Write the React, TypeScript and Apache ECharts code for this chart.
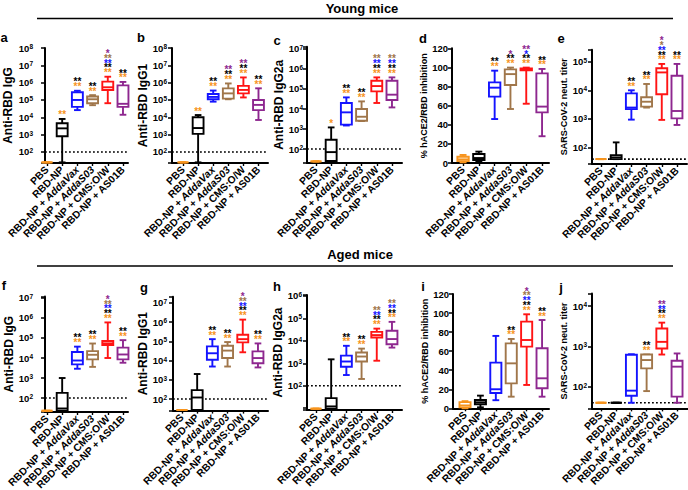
import React, { useEffect, useRef } from "react";
import * as echarts from "echarts";

const FONT = '"Liberation Sans", Arial, Helvetica, sans-serif';

// ---------- data ----------
const categories = ["PBS", "RBD-NP", "RBD-NP + AddaVax", "RBD-NP + AddaS03", "RBD-NP + CMS:O/W", "RBD-NP + AS01B"];
const italicAdjuvant = ["", "", "AddaVax", "AddaS03", "", ""];
const groupTitles = ["Young mice", "Aged mice"];
const panelLetters = ["a", "b", "c", "d", "e", "f", "g", "h", "i", "j"];
const yAxisNames = [
  "Anti-RBD IgG", "Anti-RBD IgG1", "Anti-RBD IgG2a", "% hACE2/RBD inhibition", "SARS-CoV-2 neut. titer",
  "Anti-RBD IgG", "Anti-RBD IgG1", "Anti-RBD IgG2a", "% hACE2/RBD inhibition", "SARS-CoV-2 neut. titer",
];
const linearTicks = [0, 20, 40, 60, 80, 100, 120];

// box data per category: [min, Q1, median, Q3, max]
const boxA = [
  [25, 25, 25, 25, 25],
  [25, 800, 2300, 4500, 8000],
  [2.6e4, 4e4, 1e5, 2.8e5, 3.4e5],
  [5e4, 6.5e4, 1.1e5, 1.6e5, 1.9e5],
  [6.5e4, 3.8e5, 5.4e5, 1.15e6, 2.2e6],
  [1.4e4, 4e4, 6e4, 7e5, 1.1e6],
];
const boxB = [
  [25, 25, 25, 25, 25],
  [25, 1100, 2400, 1e4, 1.35e4],
  [8e4, 1.1e5, 1.5e5, 2.2e5, 3.5e5],
  [1.1e5, 1.2e5, 2.4e5, 4.7e5, 9e5],
  [1.4e5, 2.4e5, 3.8e5, 6.5e5, 2e6],
  [7e3, 2.6e4, 5.2e4, 1e5, 4.7e5],
];
const boxC = [
  [24, 24, 24, 24, 24],
  [24, 25, 70, 290, 1200],
  [1.5e3, 1.65e3, 6.8e3, 2e4, 3.8e4],
  [2.5e3, 2.6e3, 4.1e3, 1e4, 2.4e4],
  [2e4, 7.6e4, 1.4e5, 2.6e5, 3.8e5],
  [1.2e4, 2.8e4, 5.2e4, 2.6e5, 3.8e5],
];
const boxD = [
  [0.7, 2, 3.8, 6.6, 8.4],
  [1.4, 3.1, 5.2, 9.4, 11.9],
  [46, 69.4, 78.8, 84.4, 96.6],
  [56.5, 81.6, 93, 98, 99.8],
  [62, 97, 98, 99, 99.8],
  [28, 53, 59, 93.8, 98.4],
];
const boxE = [
  [40, 40, 40, 40, 40],
  [40, 40, 46, 55, 153],
  [950, 2200, 2500, 7800, 1e4],
  [2500, 2700, 4000, 5700, 1.66e4],
  [930, 7300, 4.2e4, 5.9e4, 8.3e4],
  [620, 1050, 1900, 3.2e4, 8.3e4],
];
const boxF = [
  [23, 23, 23, 23, 23],
  [23, 23, 30, 180, 1000],
  [2.9e3, 4.8e3, 7.5e3, 2e4, 3.7e4],
  [3.6e3, 8.5e3, 1.45e4, 2.2e4, 5.3e4],
  [1e4, 4.5e4, 5.4e4, 7.1e4, 6e5],
  [5.8e3, 8.5e3, 1.5e4, 3.3e4, 7.8e4],
];
const boxG = [
  [27, 27, 27, 27, 27],
  [27, 27, 120, 290, 2000],
  [4.9e3, 1.1e4, 2.4e4, 5.5e4, 1.3e5],
  [4.9e3, 1.35e4, 3.3e4, 5.9e4, 9.2e4],
  [2.7e4, 8.8e4, 1.3e5, 2.2e5, 1.35e6],
  [4.4e3, 7.3e3, 1.35e4, 3e4, 7.8e4],
];
const boxH = [
  [9.5, 9.5, 9.5, 9.5, 9.5],
  [9.5, 9.5, 12, 28, 1500],
  [300, 700, 1200, 2200, 6000],
  [200, 1200, 2000, 3000, 4500],
  [1300, 1.4e4, 1.8e4, 2.5e4, 3.5e4],
  [5e3, 7e3, 1.2e4, 2.8e4, 7e4],
];
const boxI = [
  [0, 1, 3, 6.5, 7.5],
  [1, 4.2, 6.3, 8.7, 13.3],
  [8.5, 16, 20, 48, 76],
  [12.2, 26.2, 47.2, 68.2, 72.8],
  [24.5, 64.7, 71.7, 91, 98.7],
  [12.2, 21, 31.5, 63, 92.7],
];
const boxJ = [
  [40, 40, 40, 40, 40],
  [40, 40, 40, 40, 40],
  [40, 60, 80, 620, 640],
  [78, 285, 460, 630, 630],
  [630, 890, 1300, 2800, 3900],
  [40, 57, 315, 440, 670],
];

// significance marks per category, bottom to top: colour code + number of asterisks
const starsA = [[], ["o2"], ["o2", "k2"], ["o2", "k2"], ["o2", "k2", "b2", "n2", "p1"], ["o2", "k2"]];
const starsB = [[], ["o2"], ["o2", "k2"], ["o2", "k2", "p2"], ["o2", "k2", "p2"], ["o2", "k2"]];
const starsC = [[], ["o1"], ["o2", "k2"], ["o2", "k2"], ["o2", "k2", "b2", "n2"], ["o2", "k2", "b2", "n2"]];
const starsD = [[], [], ["o2", "k2"], ["o2", "k2", "p1"], ["o2", "k2", "b1", "p2"], ["o2", "k2"]];
const starsE = [[], [], ["o2", "k2"], ["o2", "k2"], ["o2", "k2", "b2", "n1", "p1"], ["o2", "k2"]];
const starsF = [[], [], ["o2", "k2"], ["o2", "k2"], ["o2", "k2", "b2", "n2", "p1"], ["o2", "k2"]];
const starsG = [[], [], ["o2", "k2"], ["o2", "k2"], ["o2", "k2", "b2", "n2", "p1"], ["o2", "k2"]];
const starsH = [[], [], ["o2", "k2"], ["o2", "k2"], ["o2", "k2", "b2", "n2"], ["o2", "k2", "b2", "n2"]];
const starsI = [[], [], [], ["o2", "k2"], ["o2", "k2", "b2", "n2", "p1"], ["o2", "k2"]];
const starsJ = [[], [], [], ["o2", "k2"], ["o2", "k2", "b2", "p2"], []];

const boxes = [boxA, boxB, boxC, boxD, boxE, boxF, boxG, boxH, boxI, boxJ];
const stars = [starsA, starsB, starsC, starsD, starsE, starsF, starsG, starsH, starsI, starsJ];
const scales = ["log", "log", "log", "value", "log", "log", "log", "log", "value", "log"];
const yMins = [23, 23, 20, 0, 27, 20, 25, 8.3, 0, 29];
const yMaxs = [1e8, 1e8, 1.3e7, 120, 2.6e5, 1.2e7, 2.1e7, 1.1e6, 120, 2.05e4];
const detectionLimits = [100, 100, 100, null, 40, 100, 100, 100, null, 40];

// ---------- styles / layout ----------
const categoryColors = ["#F7941D", "#000000", "#1414FF", "#A0764A", "#FF1414", "#8E278F"];
const starColors: Record<string, string> = { o: "#F7941D", k: "#000000", b: "#1414FF", n: "#A0764A", p: "#8E278F" };

const layouts = [
  { left: 45, right: 128, top: 48, bottom: 163, xMin: -0.13, xMax: 5.33, nameGap: 31, labelMargin: 12, nameSize: 12, lx: 4, ly: 37 },
  { left: 172, right: 268, top: 48, bottom: 163, xMin: -0.73, xMax: 5.63, nameGap: 20, labelMargin: 5, nameSize: 12, lx: 141, ly: 37 },
  { left: 307, right: 402, top: 46.7, bottom: 163, xMin: -0.59, xMax: 5.66, nameGap: 22, labelMargin: 4, nameSize: 12, lx: 277, ly: 40 },
  { left: 452, right: 549, top: 48.3, bottom: 163, xMin: -0.7, xMax: 5.44, nameGap: 17, labelMargin: 4, nameSize: 9, lx: 423, ly: 38 },
  { left: 592, right: 687, top: 49.7, bottom: 164, xMin: -0.59, xMax: 5.66, nameGap: 22, labelMargin: 5, nameSize: 9, lx: 561, ly: 38 },
  { left: 45, right: 128, top: 296.4, bottom: 412, xMin: -0.13, xMax: 5.33, nameGap: 28, labelMargin: 12, nameSize: 12, lx: 4, ly: 285 },
  { left: 173, right: 268, top: 296.7, bottom: 410.6, xMin: -0.59, xMax: 5.66, nameGap: 21, labelMargin: 6, nameSize: 12, lx: 144, ly: 287 },
  { left: 307, right: 402, top: 295, bottom: 410, xMin: -0.59, xMax: 5.66, nameGap: 22, labelMargin: 5, nameSize: 12, lx: 277, ly: 286 },
  { left: 453, right: 549, top: 294, bottom: 408.3, xMin: -0.78, xMax: 5.45, nameGap: 18, labelMargin: 4, nameSize: 9, lx: 423, ly: 286 },
  { left: 592, right: 688, top: 293.6, bottom: 408.4, xMin: -0.59, xMax: 5.72, nameGap: 22, labelMargin: 5, nameSize: 9, lx: 561, ly: 287 },
];

const STAR_ROW = 4.8;
const CAT_FONT = 10.3;

function categoryLabel(i: number): string {
  const cat = categories[i];
  const it = italicAdjuvant[i];
  if (it && cat.endsWith(it)) {
    return `{n|${cat.slice(0, cat.length - it.length)}}{i|${it}}`;
  }
  return `{n|${cat}}`;
}

function renderBox(params: any, api: any) {
  const x = api.value(0);
  const mn = api.value(1), q1 = api.value(2), md = api.value(3), q3 = api.value(4), mx = api.value(5);
  const color = categoryColors[api.value(6)];
  const bw = api.size([1, 0])[0];
  const half = bw * 0.36;
  const cap = bw * 0.22;
  const P = (v: number) => api.coord([x, v]);
  const cx = P(md)[0];
  const yMn = P(mn)[1], yQ1 = P(q1)[1], yMd = P(md)[1], yQ3 = P(q3)[1], yMx = P(mx)[1];
  const ls = { stroke: color, lineWidth: 1.9, fill: "none" };
  return {
    type: "group",
    children: [
      { type: "line", shape: { x1: cx, y1: yMx, x2: cx, y2: yQ3 }, style: ls },
      { type: "line", shape: { x1: cx, y1: yQ1, x2: cx, y2: yMn }, style: ls },
      { type: "line", shape: { x1: cx - cap, y1: yMx, x2: cx + cap, y2: yMx }, style: ls },
      { type: "line", shape: { x1: cx - cap, y1: yMn, x2: cx + cap, y2: yMn }, style: ls },
      { type: "rect", shape: { x: cx - half, y: yQ3, width: 2 * half, height: yQ1 - yQ3 }, style: { stroke: color, lineWidth: 1.9, fill: "#ffffff" } },
      { type: "line", shape: { x1: cx - half, y1: yMd, x2: cx + half, y2: yMd }, style: ls },
    ],
  };
}

const starRich: Record<string, any> = {};
Object.keys(starColors).forEach((k) => {
  starRich[k] = { fill: starColors[k], color: starColors[k], fontFamily: FONT, fontWeight: "bold", fontSize: 10, lineHeight: STAR_ROW };
});

function makeStarRenderer(groups: { ci: number; codes: string[] }[]) {
  return (params: any, api: any) => {
    const g = groups[params.dataIndex];
    const pt = api.coord([api.value(0), api.value(1)]);
    const text = g.codes
      .slice()
      .reverse()
      .map((c) => `{${c[0]}|${"*".repeat(parseInt(c.slice(1), 10))}}`)
      .join("\n");
    return {
      type: "text",
      x: pt[0],
      y: pt[1] - 1.6,
      style: {
        text,
        rich: starRich,
        font: `bold 10px ${FONT}`,
        align: "center",
        verticalAlign: "bottom",
        lineHeight: STAR_ROW,
      },
    };
  };
}

function buildOption() {
  const grid: any[] = [], xAxis: any[] = [], yAxis: any[] = [], series: any[] = [];
  const catTicks = categories.map((_, i) => i);
  boxes.forEach((box, i) => {
    const L = layouts[i];
    const isLog = scales[i] === "log";
    grid.push({ left: L.left, top: L.top, width: L.right - L.left, height: L.bottom - L.top, containLabel: false, outerBoundsMode: "none" });
    xAxis.push({
      gridIndex: i,
      type: "value",
      min: L.xMin,
      max: L.xMax,
      splitLine: { show: false },
      axisLine: { show: true, onZero: false, lineStyle: { color: "#000", width: 2 } },
      axisTick: { show: true, length: 3, customValues: catTicks, lineStyle: { color: "#000", width: 1.4 } },
      axisLabel: {
        customValues: catTicks,
        rotate: 45,
        margin: 5,
        formatter: (v: number) => {
          const k = Math.round(v);
          if (Math.abs(v - k) > 1e-6 || k < 0 || k >= categories.length) return "";
          return categoryLabel(k);
        },
        rich: {
          n: { fontFamily: FONT, fontWeight: "bold", fontSize: CAT_FONT, color: "#000" },
          i: { fontFamily: FONT, fontWeight: "bold", fontStyle: "italic", fontSize: CAT_FONT, color: "#000" },
        },
      },
    });
    yAxis.push({
      gridIndex: i,
      type: isLog ? "log" : "value",
      logBase: 10,
      min: yMins[i],
      max: yMaxs[i],
      interval: isLog ? undefined : 20,
      splitLine: { show: false },
      axisLine: { show: true, onZero: false, lineStyle: { color: "#000", width: 2 } },
      axisTick: { show: true, length: 4, lineStyle: { color: "#000", width: 1.5 } },
      axisLabel: {
        margin: L.labelMargin,
        color: "#000",
        fontFamily: FONT,
        fontWeight: "bold",
        fontSize: 9.5,
        formatter: isLog
          ? (v: number) => {
              const e = Math.log10(v);
              const r = Math.round(e);
              if (Math.abs(e - r) > 1e-6 || r < 2) return "";
              return `{b|10}{s|${String(r)}}`;
            }
          : (v: number) => (linearTicks.includes(v) ? String(v) : ""),
        rich: {
          b: { fontFamily: FONT, fontWeight: "bold", fontSize: 9.5, color: "#000" },
          s: { fontFamily: FONT, fontWeight: "bold", fontSize: 6.5, color: "#000", verticalAlign: "top" },
        },
      },
      name: yAxisNames[i],
      nameLocation: "middle",
      nameGap: L.nameGap,
      nameTextStyle: { fontFamily: FONT, fontWeight: "bold", fontSize: L.nameSize, color: "#000" },
    });
    const lod = detectionLimits[i];
    if (lod != null) {
      series.push({
        type: "line",
        xAxisIndex: i,
        yAxisIndex: i,
        data: [[L.xMin, lod], [L.xMax, lod]],
        symbol: "none",
        silent: true,
        z: 1,
        lineStyle: { color: "#000", width: 1.6, type: [1.8, 2.2] },
      });
    }
    series.push({
      type: "custom",
      xAxisIndex: i,
      yAxisIndex: i,
      clip: false,
      z: 3,
      data: box.map((b, ci) => [ci, b[0], b[1], b[2], b[3], b[4], ci]),
      renderItem: renderBox,
    });
    const groups: { ci: number; codes: string[] }[] = [];
    stars[i].forEach((codes, ci) => {
      if (codes.length) groups.push({ ci, codes });
    });
    series.push({
      type: "custom",
      xAxisIndex: i,
      yAxisIndex: i,
      clip: false,
      z: 4,
      data: groups.map((g) => [g.ci, box[g.ci][4]]),
      renderItem: makeStarRenderer(groups),
    });
  });

  const graphic: any[] = [
    { type: "text", x: 362, y: 8, style: { text: groupTitles[0], font: `bold 13px ${FONT}`, fill: "#000", align: "center", verticalAlign: "middle" } },
    { type: "line", shape: { x1: 37, y1: 18.5, x2: 673, y2: 18.5 }, style: { stroke: "#000", lineWidth: 1.6 } },
    { type: "text", x: 360, y: 254, style: { text: groupTitles[1], font: `bold 13px ${FONT}`, fill: "#000", align: "center", verticalAlign: "middle" } },
    { type: "line", shape: { x1: 37, y1: 266, x2: 673, y2: 266 }, style: { stroke: "#000", lineWidth: 1.6 } },
  ];
  panelLetters.forEach((l, i) => {
    graphic.push({
      type: "text",
      x: layouts[i].lx,
      y: layouts[i].ly,
      style: { text: l, font: `bold 13px ${FONT}`, fill: "#000", align: "center", verticalAlign: "middle" },
    });
  });

  return {
    animation: false,
    backgroundColor: "#ffffff",
    textStyle: { fontFamily: FONT },
    grid,
    xAxis,
    yAxis,
    series,
    graphic,
  };
}

export default function App() {
  const ref = useRef<HTMLDivElement>(null);
  useEffect(() => {
    if (!ref.current) return;
    const chart = echarts.init(ref.current, null, { renderer: "svg" });
    chart.setOption(buildOption() as any);
    return () => chart.dispose();
  }, []);
  return <div ref={ref} style={{ position: "absolute", left: 0, top: 0, width: 688, height: 490 }} />;
}
